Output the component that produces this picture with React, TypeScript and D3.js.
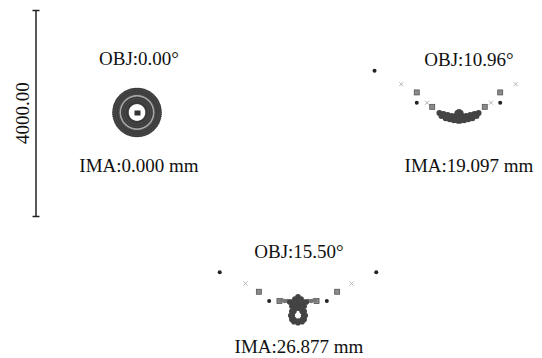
import React, { useEffect } from 'react';
import * as d3 from 'd3';

// field labels
const objLabels = ['OBJ:0.00°', 'OBJ:10.96°', 'OBJ:15.50°'];
const imaLabels = ['IMA:0.000 mm', 'IMA:19.097 mm', 'IMA:26.877 mm'];
const scaleLabel = '4000.00';
const scaleValue = 4000;

// on-axis field: rings of rays (radius in um, rays per ring, wavelength)
const axisRingRadii = [455, 432, 410, 388, 365, 342, 312, 282, 258, 234, 210, 188];
const axisRingRays = [80, 80, 72, 72, 72, 64, 64, 56, 56, 48, 48, 40];
const axisRingWave = [0, 2, 0, 2, 0, 2, 1, 0, 2, 0, 2, 0];

// field 2 (10.96 deg), um, y up
const f2Dots = [[-1640, 800], [-820, 180], [800, 180]];
const f2Cross = [[-1120, 540], [1100, 540], [-620, 180], [620, 180]];
const f2Squares = [[-820, 380], [800, 380], [-520, 100], [500, 100]];
const f2Core = [
  [-380, -20], [-300, -40], [-220, -60], [-140, -80], [-60, -100], [60, -100], [140, -80], [220, -60], [300, -40], [380, -20],
  [-340, -80], [-260, -120], [-180, -140], [-100, -160], [-20, -170], [20, -170], [100, -160], [180, -140], [260, -120], [340, -80],
  [0, -40], [-40, -60], [40, -60], [0, -140], [0, 0], [-30, -20], [30, -20]
];

// field 3 (15.50 deg), um, y up
const f3Dots = [[-1520, 540], [1520, 540], [-560, -20], [560, -20]];
const f3Cross = [[-1020, 320], [1040, 320]];
const f3Squares = [[-760, 160], [760, 160], [-360, -20], [360, -20]];
const f3Arms = [[-320, 0], [-260, -20], [-200, -20], [320, 0], [260, -20], [200, -20]];
const f3Core = [
  [-160, -40], [160, -40],
  [0, 60], [-60, 20], [60, 20], [0, -20], [-120, -40], [120, -40], [-80, -80], [80, -80], [0, -80],
  [-120, -120], [120, -120], [-60, -140], [60, -140],
  [140, -300], [120, -380], [80, -420], [0, -440], [-80, -420], [-120, -380], [-140, -300],
  [-120, -220], [-80, -180], [0, -160], [80, -180], [120, -220],
  [110, -300], [80, -380], [0, -410], [-80, -380], [-110, -300], [-80, -220], [80, -220]
];

const App = () => {
  useEffect(() => {
    document.body.style.margin = '0';
    const width = 542;
    const height = 358;

    d3.select('#Spot svg').remove();
    const svg = d3.select('#Spot')
      .append('svg')
      .attr('width', width)
      .attr('height', height)
      .style('display', 'block')
      .style('background', '#fff');

    // um -> px
    const s = d3.scaleLinear().domain([0, scaleValue]).range([0, 206]);

    const centers = [
      { cx: 137, cy: 112.5, tx: 139 },
      { cx: 459, cy: 112, tx: 469 },
      { cx: 298, cy: 300, tx: 299 }
    ];
    const objY = [65, 66, 258];
    const imaY = [172, 172, 353];
    const serif = '"Liberation Serif", "Times New Roman", serif';

    // scale bar
    const barTop = 10.5;
    svg.append('line')
      .attr('x1', 36).attr('x2', 36)
      .attr('y1', barTop).attr('y2', barTop + s(scaleValue))
      .attr('stroke', '#222').attr('stroke-width', 1.5);
    [barTop, barTop + s(scaleValue)].forEach(y => {
      svg.append('line')
        .attr('x1', 32.5).attr('x2', 39.5)
        .attr('y1', y).attr('y2', y)
        .attr('stroke', '#222').attr('stroke-width', 1.5);
    });
    svg.append('text')
      .attr('transform', 'translate(28.5,113) rotate(-90)')
      .attr('text-anchor', 'middle')
      .style('font-family', serif)
      .style('font-size', '19px')
      .style('fill', '#111')
      .text(scaleLabel);

    // labels
    centers.forEach((c, i) => {
      svg.append('text')
        .attr('x', c.tx).attr('y', objY[i])
        .attr('text-anchor', 'middle')
        .style('font-family', serif)
        .style('font-size', '19px')
        .style('fill', '#111')
        .text(objLabels[i]);
      svg.append('text')
        .attr('x', c.tx).attr('y', imaY[i])
        .attr('text-anchor', 'middle')
        .style('font-family', serif)
        .style('font-size', '19px')
        .style('fill', '#111')
        .text(imaLabels[i]);
    });

    const px = (c, p) => c.cx + s(p[0]);
    const py = (c, p) => c.cy - s(p[1]);

    const drawDots = (c, pts, r, color) => {
      svg.append('g').selectAll('circle')
        .data(pts)
        .enter().append('circle')
        .attr('cx', d => px(c, d))
        .attr('cy', d => py(c, d))
        .attr('r', r)
        .attr('fill', color);
    };
    const drawCross = (c, pts) => {
      const g = svg.append('g').attr('stroke', '#b5b5b5').attr('stroke-width', 1);
      pts.forEach(d => {
        const x = px(c, d), y = py(c, d);
        g.append('path').attr('d', `M${x - 2},${y - 2}L${x + 2},${y + 2}M${x - 2},${y + 2}L${x + 2},${y - 2}`);
      });
    };
    const drawSquares = (c, pts) => {
      svg.append('g').selectAll('rect')
        .data(pts)
        .enter().append('rect')
        .attr('x', d => px(c, d) - 2.5)
        .attr('y', d => py(c, d) - 2.5)
        .attr('width', 5).attr('height', 5)
        .attr('fill', '#8a8a8a')
        .attr('stroke', '#555').attr('stroke-width', 0.8);
    };

    // field 1 rings
    const ringColors = ['#3a3a3a', '#a8a8a8', '#4a4a4a'];
    axisRingRadii.forEach((r, k) => {
      const pts = d3.range(axisRingRays[k]).map(j => {
        const a = (2 * Math.PI * j) / axisRingRays[k];
        return [r * Math.cos(a), r * Math.sin(a)];
      });
      drawDots(centers[0], pts, 1.4, ringColors[axisRingWave[k]]);
    });
    svg.append('rect')
      .attr('x', centers[0].cx - 2.5).attr('y', centers[0].cy - 2)
      .attr('width', 6).attr('height', 5)
      .attr('fill', '#333');

    // field 2
    drawCross(centers[1], f2Cross);
    drawSquares(centers[1], f2Squares);
    drawDots(centers[1], f2Dots, 2, '#222');
    drawDots(centers[1], f2Core, 3, '#444');

    // field 3
    drawCross(centers[2], f3Cross);
    drawSquares(centers[2], f3Squares);
    drawDots(centers[2], f3Dots, 2, '#222');
    drawDots(centers[2], f3Arms, 2.2, '#777');
    drawDots(centers[2], f3Core, 2.8, '#444');
  }, []);

  return <div id="Spot" style={{ width: 542, height: 358 }}></div>;
};

export default App;
